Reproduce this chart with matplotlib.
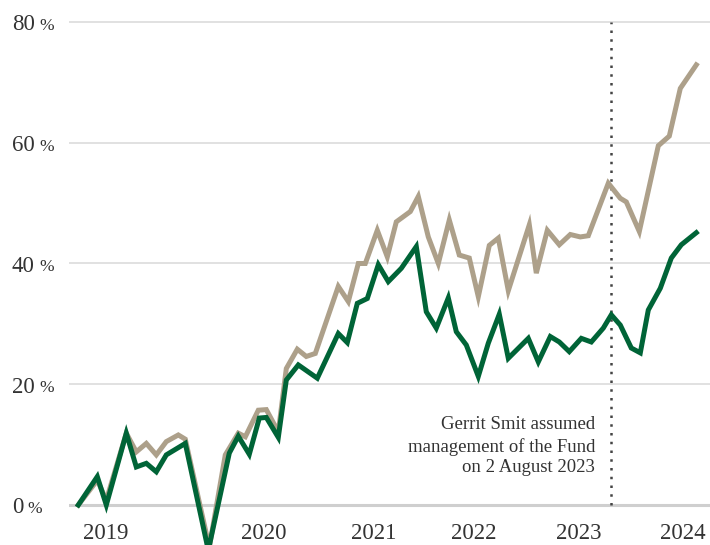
import matplotlib
matplotlib.use("Agg")
import matplotlib.pyplot as plt

plt.rcParams['font.family'] = ['Liberation Serif', 'DejaVu Serif']

# x is a period count along the chart (roughly months from the start)
fund_x = [0, 1.9, 2.8, 4.8, 5.8, 6.8, 7.8, 8.8, 10.7, 13.0,
          15.1, 16.0, 17.1, 18.1, 18.8, 20.0, 20.8, 22.0, 23.9, 26.0,
          26.9, 27.9, 28.9, 30.0, 31.0, 32.3, 33.8, 34.8, 35.8, 37.0,
          37.8, 38.8, 40.0, 41.0, 42.1, 43.0, 45.0, 46.0, 47.2, 48.1,
          49.1, 50.3, 51.3, 52.5, 53.3, 54.2, 55.3, 56.2, 57.0, 58.2,
          59.3, 60.3, 61.8]
fund = [0, 4.7, 0.0, 11.9, 6.3, 6.9, 5.5, 8.3, 10.2, -7.5,
        8.6, 11.4, 8.4, 14.4, 14.5, 11.2, 20.7, 23.2, 21.0, 28.4,
        26.9, 33.4, 34.2, 39.8, 37.0, 39.2, 42.8, 32.0, 29.3, 34.3,
        28.7, 26.5, 21.3, 26.8, 31.6, 24.3, 27.6, 23.7, 27.9, 27.0,
        25.4, 27.6, 27.0, 29.3, 31.5, 29.8, 26.0, 25.2, 32.3, 35.9,
        40.9, 43.1, 45.1]

bench_x = [0, 1.9, 2.8, 4.8, 5.8, 6.8, 7.8, 8.8, 10.0, 10.7,
           13.1, 14.7, 16.0, 16.7, 18.0, 18.8, 20.0, 20.8, 21.9, 22.8,
           23.7, 26.0, 27.0, 28.0, 28.7, 29.9, 30.9, 31.8, 33.2, 34.0,
           35.0, 36.0, 37.1, 38.1, 39.1, 40.0, 41.1, 42.0, 43.0, 45.1,
           45.8, 46.9, 48.1, 49.2, 50.2, 51.0, 53.0, 54.2, 54.8, 56.1,
           58.0, 59.1, 60.2, 61.8]
bench = [0, 4.1, 0.8, 11.9, 8.8, 10.2, 8.3, 10.5, 11.6, 10.9,
         -7.0, 8.3, 11.9, 11.3, 15.7, 15.8, 12.1, 22.6, 25.8, 24.6,
         25.1, 36.2, 33.7, 40.0, 40.0, 45.5, 41.1, 46.9, 48.6, 51.1,
         44.4, 40.0, 47.2, 41.4, 40.9, 34.5, 43.0, 44.2, 35.5, 46.4,
         38.4, 45.5, 43.1, 44.8, 44.4, 44.6, 53.3, 50.8, 50.2, 45.3,
         59.5, 61.1, 69.0, 72.9]

year_pos = [2.7, 18.5, 29.5, 39.5, 50.0, 60.5]
year_labels = ["2019", "2020", "2021", "2022", "2023", "2024"]
y_ticks = [0, 20, 40, 60, 80]

change_x = 53.3
note = "Gerrit Smit assumed\nmanagement of the Fund\non 2 August 2023"

green = "#006437"
tan = "#ADA08A"
text_col = "#333333"

fig = plt.figure(figsize=(7.1, 5.45), dpi=100)
ax = fig.add_axes([69 / 710, 0, 641 / 710, 1])
ax.set_xlim(-0.93, 63.17)
ax.set_ylim(-6.625, 83.64)
ax.axis("off")

# gridlines
for v in y_ticks:
    if v == 0:
        ax.axhline(v, color="#cfcfcf", lw=2.2, zorder=1)
    else:
        ax.axhline(v, color="#dcdcdc", lw=1.2, zorder=1)

# y labels with a smaller % sign
for v in y_ticks:
    t = ax.text(-57 / 641, v - 1.37, str(v), transform=ax.get_yaxis_transform(),
                ha="left", va="baseline", fontsize=16.5, color=text_col)
    ax.annotate("%", xy=(1, 0), xycoords=t, xytext=(3, 1), textcoords="offset points",
                ha="left", va="bottom", fontsize=12.5, color=text_col)

# year labels
for x, lab in zip(year_pos, year_labels):
    ax.text(x, -5.63, lab, ha="center", va="baseline", fontsize=16.5, color=text_col)

ax.plot(bench_x, bench, color=tan, lw=3.6, solid_joinstyle="miter", zorder=3)
ax.plot(fund_x, fund, color=green, lw=3.6, solid_joinstyle="miter", zorder=4)

ax.vlines(change_x, 0, 80, colors="#444444", lw=1.8, linestyles=(0, (1, 2.5)), zorder=2)
ax.text(51.7, 9.7, note, ha="right", va="center", fontsize=13.5, color=text_col,
        linespacing=1.3, multialignment="right")

fig.savefig("out.png", dpi=100)
